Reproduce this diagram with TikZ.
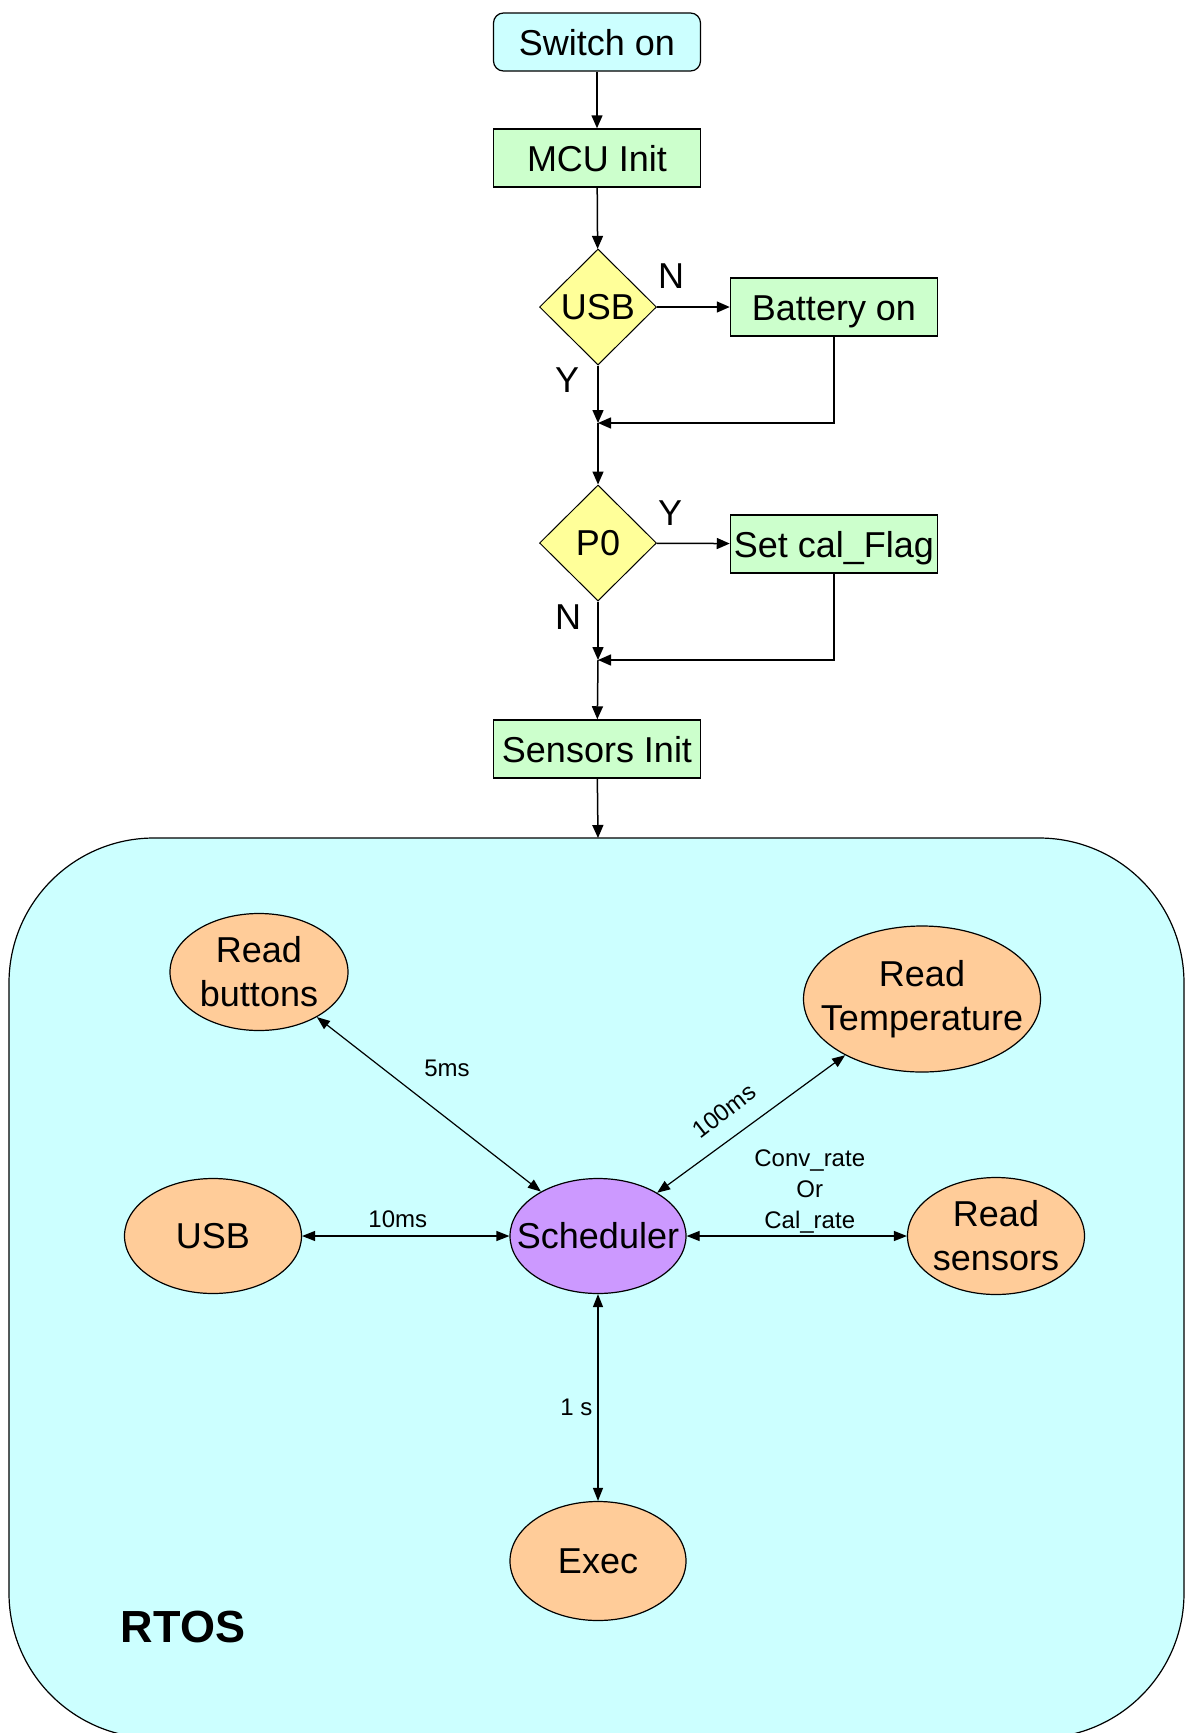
\documentclass[tikz,border=0pt]{standalone}
\usepackage{fontspec}
\setmainfont{Liberation Sans}
\usetikzlibrary{shapes.geometric,arrows.meta,positioning}

\definecolor{startcol}{HTML}{CCFFFF}
\definecolor{boxcol}{HTML}{CCFFCC}
\definecolor{decicol}{HTML}{FFFF99}
\definecolor{taskcol}{HTML}{FFCC99}
\definecolor{schedcol}{HTML}{CC99FF}
\definecolor{rtoscol}{HTML}{CCFFFF}

\tikzset{
  bigfont/.style={font=\fontsize{36}{44}\selectfont},
  flow/.style={line width=1.5pt,-{Triangle[length=13pt,width=11pt]}},
  link/.style={line width=1.2pt,{Triangle[length=13pt,width=10pt]}-{Triangle[length=13pt,width=10pt]}},
  startbox/.style={draw,line width=1.2pt,fill=startcol,rounded corners=10pt,minimum width=207pt,minimum height=58pt,text height=30pt,text depth=4pt,bigfont},
  stepbox/.style={draw,line width=1.5pt,fill=boxcol,minimum width=207pt,minimum height=58pt,inner sep=2pt,text height=30pt,text depth=4pt,bigfont},
  decision/.style={diamond,draw,line width=1pt,fill=decicol,minimum width=117pt,minimum height=116pt,inner sep=0pt,bigfont},
  task/.style={ellipse,draw,line width=1.2pt,fill=taskcol,minimum width=178pt,minimum height=117pt,inner xsep=-30pt,inner ysep=0pt,align=center,bigfont},
  yn/.style={bigfont},
  timelbl/.style={font=\fontsize{24}{31}\selectfont,inner sep=2pt,align=center}
}

\begin{document}
\begin{tikzpicture}[x=1pt,y=-1pt]
  \clip (0,0) rectangle (1186,1733);
  % RTOS area
  \draw[line width=1.2pt,fill=rtoscol,rounded corners=145pt] (9,838) rectangle (1184,1738);
  \node[font=\fontsize{45}{50}\selectfont\bfseries] (rtos) at (183,1627) {RTOS};

  % boot sequence
  \node[startbox] (sw) at (597,42) {Switch on};
  \node[stepbox] (mcu) at (597,158) {MCU Init};
  \node[decision] (usbq) at (598,307) {USB};
  \node[stepbox] (batt) at (834,307) {Battery on};
  \coordinate (m1) at (598,423);
  \node[decision] (pz) at (598,543) {P0};
  \node[stepbox] (cal) at (834,544) {Set cal\_Flag};
  \coordinate (m2) at (598,660);
  \node[stepbox] (sens) at (597,749) {Sensors Init};
  \coordinate (rtin) at (598,838);

  \node[yn] (usbn) at (671,276) {N};
  \node[yn] (usby) at (567,380) {Y};
  \node[yn] (pzy) at (670,513) {Y};
  \node[yn] (pzn) at (568,617) {N};

  \draw[flow] (sw) -- (mcu);
  \draw[flow] (mcu) -- (usbq);
  \draw[flow] (usbq) -- (batt);
  \draw[flow] (usbq) -- (m1);
  \draw[flow] (batt.south) |- (m1);
  \draw[flow] (m1) -- (pz);
  \draw[flow] (pz) -- (cal);
  \draw[flow] (pz) -- (m2);
  \draw[flow] (cal.south) |- (m2);
  \draw[flow] (m2) -- (sens);
  \draw[flow] (sens) -- (rtin);

  % tasks
  \node[task] (rbtn) at (259,972) {Read\\buttons};
  \node[task,minimum width=237pt,minimum height=146pt] (rtemp) at (922,999) {Read\\Temperature};
  \node[task,minimum width=177pt,minimum height=115pt] (usbt) at (213,1236) {USB};
  \node[task,fill=schedcol,minimum width=176pt,minimum height=115pt] (sched) at (598,1236) {Scheduler};
  \node[task,minimum width=177pt] (rsens) at (996,1236) {Read\\sensors};
  \node[task,minimum width=176pt,minimum height=119pt] (exec) at (598,1561) {Exec};

  \draw[link] (rbtn) -- (sched);
  \draw[link] (sched) -- (rtemp);
  \draw[link] (usbt) -- node[timelbl,above,xshift=-8pt,yshift=6pt] {10ms} (sched);
  \draw[link] (sched) -- node[timelbl,above,xshift=13pt] {Conv\_rate\\Or\\Cal\_rate} (rsens);
  \draw[link] (sched) -- node[timelbl,left,pos=0.55,xshift=-3pt] {1 s} (exec);
  \node[timelbl] (t5) at (447,1068) {5ms};
  \node[timelbl,rotate=38,inner sep=0pt] (t100) at (724,1111) {100ms};
\end{tikzpicture}
\end{document}
